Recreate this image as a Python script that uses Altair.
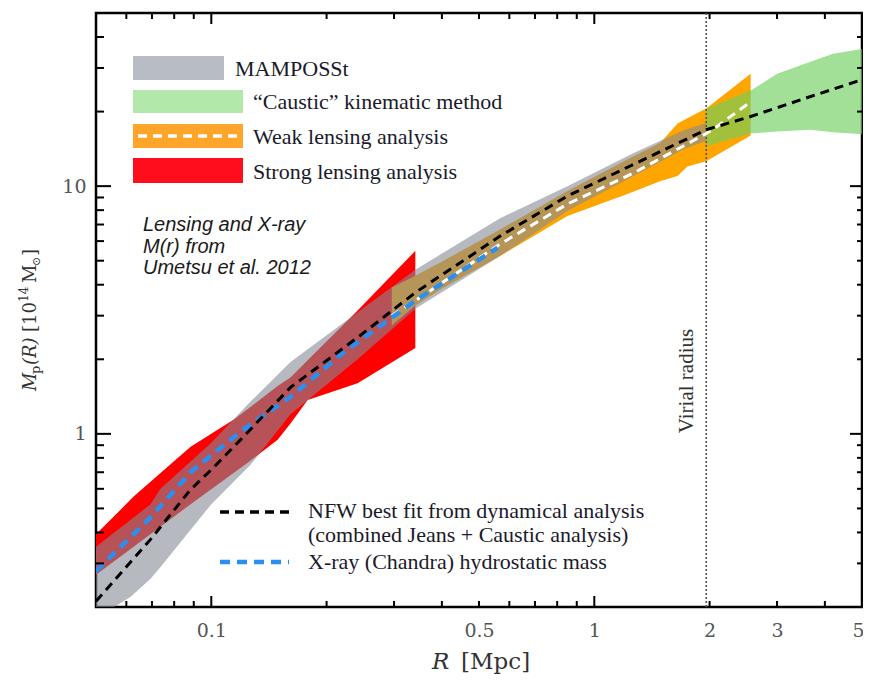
import altair as alt
import pandas as pd

W, H = 766, 594

# ---------------- data ----------------
# MAMPOSSt band
mam_r  = [0.05, 0.0616, 0.0694, 0.0737, 0.1, 0.1266, 0.161, 0.241, 0.341, 0.569, 0.851, 1.267, 1.71, 1.96]
mam_lo = [0.18, 0.22, 0.26, 0.29, 0.52, 0.75, 1.2, 2.0, 3.2, 5.24, 7.94, 11.0, 14.1, 15.2]
mam_hi = [0.35, 0.45, 0.52, 0.60, 0.92, 1.35, 1.95, 3.1, 4.6, 7.44, 10.0, 13.6, 16.8, 18.0]

# Strong lensing band
sl_r  = [0.05, 0.0627, 0.0883, 0.1143, 0.1245, 0.149, 0.161, 0.1785, 0.241, 0.341]
sl_lo = [0.27, 0.35, 0.52, 0.695, 0.765, 0.946, 1.1, 1.37, 1.60, 2.22]
sl_hi = [0.393, 0.558, 0.887, 1.14, 1.26, 1.56, 1.69, 1.98, 3.15, 5.48]

# Weak lensing band
wl_r  = [0.296, 0.341, 0.404, 0.569, 0.851, 1.22, 1.49, 1.65, 1.75, 1.96, 2.56]
wl_lo = [2.74, 3.3, 3.89, 5.24, 7.58, 9.3, 10.5, 11.0, 12.0, 12.6, 16.0]
wl_hi = [3.9, 4.35, 5.0, 6.7, 9.55, 12.8, 15.0, 17.9, 18.8, 20.6, 28.4]

# Caustic band
ca_r  = [1.96, 2.56, 3.0, 3.67, 4.2, 5.0]
ca_lo = [14.5, 16.3, 16.6, 16.9, 16.5, 16.2]
ca_hi = [20.6, 24.3, 28.4, 31.8, 34.2, 35.8]

# NFW best fit (dynamical)
nfw_r = [0.05, 0.0694, 0.0883, 0.1, 0.1192, 0.161, 0.241, 0.341, 0.569, 0.851, 1.267, 1.96, 2.56, 3.67, 5.0]
nfw_m = [0.211, 0.375, 0.596, 0.716, 0.946, 1.54, 2.45, 3.72, 6.3, 9.12, 12.25, 16.9, 19.1, 23.0, 26.9]

# X-ray hydrostatic mass
xr_r = [0.05, 0.0694, 0.0883, 0.1192, 0.161, 0.2215, 0.341, 0.559]
xr_m = [0.279, 0.46, 0.70, 1.02, 1.41, 2.13, 3.45, 5.64]

# Weak lensing best fit
wlf_r = [0.296, 0.341, 0.569, 0.851, 1.267, 1.96, 2.10, 2.56]
wlf_m = [3.0, 3.45, 5.85, 8.47, 11.3, 16.3, 17.5, 21.9]

virial_r = [1.96]

x_labels = [0.1, 0.5, 1, 2, 3, 5]
y_labels = [1, 10]
x_major = [0.1, 1]
x_minor = [0.06, 0.07, 0.08, 0.09, 0.2, 0.3, 0.4, 0.5, 0.6, 0.7, 0.8, 0.9, 2, 3, 4, 5]
y_major = [1, 10]
y_minor = [0.3, 0.4, 0.5, 0.6, 0.7, 0.8, 0.9, 2, 3, 4, 5, 6, 7, 8, 9, 20, 30, 40]

legend_top = ["MAMPOSSt", "\u201cCaustic\u201d kinematic method", "Weak lensing analysis", "Strong lensing analysis"]
legend_bottom = ["NFW best fit from dynamical analysis", "(combined Jeans + Caustic analysis)",
                 "X-ray (Chandra) hydrostatic mass"]
note_lines = ["Lensing and X-ray", "M(r) from", "Umetsu et al. 2012"]

# ---------------- scales / axes ----------------
xs = alt.Scale(type="log", domain=[0.05, 5], nice=False)
ys = alt.Scale(type="log", domain=[0.2, 50], nice=False)

SERIF = "Liberation Serif"
MATH = "DejaVu Serif"
TXT = "#1a1a2a"

XAX = alt.Axis(values=x_labels, format="~g", title=None, ticks=False, domain=False, grid=False,
               labelPadding=14, labelFont=MATH, labelFontSize=19, labelColor="#555555",
               labelFlush=True, labelFlushOffset=2, labelOverlap=False)
YAX = alt.Axis(values=y_labels, format="~g", title=None, ticks=False, domain=False, grid=False,
               labelPadding=10, labelFont=MATH, labelFontSize=19, labelColor="#555555",
               labelFlush=False, labelOverlap=False)


def X(field):
    return alt.X(field, scale=xs, axis=XAX)


def Y(field):
    return alt.Y(field, scale=ys, axis=YAX)


def band(r, lo, hi, color, opacity):
    d = pd.DataFrame({"r": r, "lo": lo, "hi": hi})
    return alt.Chart(d).mark_area(color=color, opacity=opacity, clip=True).encode(
        x=X("r:Q"), y=Y("lo:Q"), y2="hi:Q")


def line(r, m, color, width, dash):
    d = pd.DataFrame({"r": r, "m": m})
    return alt.Chart(d).mark_line(color=color, strokeWidth=width, strokeDash=dash, clip=True).encode(
        x=X("r:Q"), y=Y("m:Q"))


def txt(s, x, y, size, font=SERIF, style="normal", color=TXT, align="left", baseline="middle", angle=0):
    d = pd.DataFrame({"t": [s]})
    return alt.Chart(d).mark_text(font=font, fontSize=size, fontStyle=style, color=color,
                                  align=align, baseline=baseline, angle=angle).encode(
        x=alt.value(x), y=alt.value(y), text="t:N")


def rect(x, x2, y, y2, color):
    d = pd.DataFrame({"k": [0]})
    return alt.Chart(d).mark_rect(color=color).encode(
        x=alt.value(x), x2=alt.value(x2), y=alt.value(y), y2=alt.value(y2))


def hrule(x, x2, y, color, width, dash):
    d = pd.DataFrame({"k": [0]})
    return alt.Chart(d).mark_rule(color=color, strokeWidth=width, strokeDash=dash).encode(
        x=alt.value(x), x2=alt.value(x2), y=alt.value(y))


def xticks(vals, length):
    d = pd.DataFrame({"v": vals})
    base = alt.Chart(d).mark_rule(color="black", strokeWidth=2)
    return [base.encode(x=X("v:Q"), y=alt.value(H), y2=alt.value(H - length)),
            base.encode(x=X("v:Q"), y=alt.value(0), y2=alt.value(length))]


def yticks(vals, length_left, length_right):
    d = pd.DataFrame({"v": vals})
    base = alt.Chart(d).mark_rule(color="black", strokeWidth=2)
    return [base.encode(y=Y("v:Q"), x=alt.value(0), x2=alt.value(length_left)),
            base.encode(y=Y("v:Q"), x=alt.value(W), x2=alt.value(W - length_right))]


layers = []
# bands
layers.append(band(sl_r, sl_lo, sl_hi, "#ff0000", 1.0))
layers.append(band(wl_r, wl_lo, wl_hi, "#ffa500", 1.0))
layers.append(band(ca_r, ca_lo, ca_hi, "#6fcf5e", 0.65))
layers.append(band(mam_r, mam_lo, mam_hi, "#858a94", 0.6))

# virial radius
vr = pd.DataFrame({"r": virial_r})
layers.append(alt.Chart(vr).mark_rule(color="#555555", strokeWidth=1.6, strokeDash=[2, 2]).encode(
    x=X("r:Q")))

# lines
layers.append(line(wlf_r, wlf_m, "white", 3, [9, 6]))
layers.append(line(xr_r, xr_m, "#2a8ff0", 4.5, [10, 7]))
layers.append(line(nfw_r, nfw_m, "black", 3, [9, 6]))

# ticks
layers += xticks(x_major, 11)
layers += xticks(x_minor, 6)
layers += yticks(y_major, 15, 12)
layers += yticks(y_minor, 8, 5)

# top legend
layers.append(rect(37, 128, 43, 67, "#b8bcc5"))
layers.append(rect(37, 147, 77, 100, "#b2e8aa"))
layers.append(rect(37, 147, 111, 135, "#ffa52a"))
layers.append(hrule(42, 141, 123, "white", 3.5, [9, 6]))
layers.append(rect(37, 147, 145, 170, "#ff0d1c"))
layers.append(txt(legend_top[0], 139, 56, 22))
layers.append(txt(legend_top[1], 157, 89, 22))
layers.append(txt(legend_top[2], 157, 124, 22))
layers.append(txt(legend_top[3], 157, 159, 22))

# bottom legend
layers.append(hrule(124, 193, 499, "black", 3.5, [9, 6]))
layers.append(hrule(124, 193, 549, "#2a8ff0", 4.5, [10, 7]))
layers.append(txt(legend_bottom[0], 212, 498, 22))
layers.append(txt(legend_bottom[1], 212, 522, 22))
layers.append(txt(legend_bottom[2], 212, 549, 22))

# italic annotation
for i, s in enumerate(note_lines):
    layers.append(txt(s, 47, 212 + 21.5 * i, 20, font="Liberation Sans", style="italic", color="#1a1a1a"))

# virial radius label
layers.append(txt("Virial radius", 591, 368, 21, color="#333333", align="center", angle=270))

# x title: R [Mpc]
layers.append(txt("R", 336, 656, 23, font=MATH, style="italic", color="#333333", baseline="alphabetic"))
layers.append(txt("[Mpc]", 365, 656, 23, font=MATH, color="#333333", baseline="alphabetic"))

# y title: M_p(R) [10^14 M_sun]
bx = -60
y0 = 378
pieces = [
    ("M", "italic", 18, 0, 17),
    ("p", "normal", 13, 4, 9),
    ("(R)", "italic", 18, 0, 33),
    ("[10", "normal", 18, 0, 30),
    ("14", "normal", 12, -8, 19),
    ("M", "normal", 18, 0, 17),
    ("\u2299", "normal", 11, 4, 10),
    ("]", "normal", 18, 0, 8),
]
pos = y0
for s, st, sz, shift, adv in pieces:
    layers.append(txt(s, bx + shift, pos, sz, font=MATH, style=st, color="#333333",
                      baseline="alphabetic", angle=270))
    pos -= adv

chart = alt.layer(*layers).properties(
    width=W, height=H,
    padding={"left": 88, "top": 5, "right": 1, "bottom": 67},
    autosize=alt.AutoSizeParams(type="none"),
).configure_view(stroke="black", strokeWidth=2.5)

chart.save("out.html", embed_options={"renderer": "svg", "actions": False})
